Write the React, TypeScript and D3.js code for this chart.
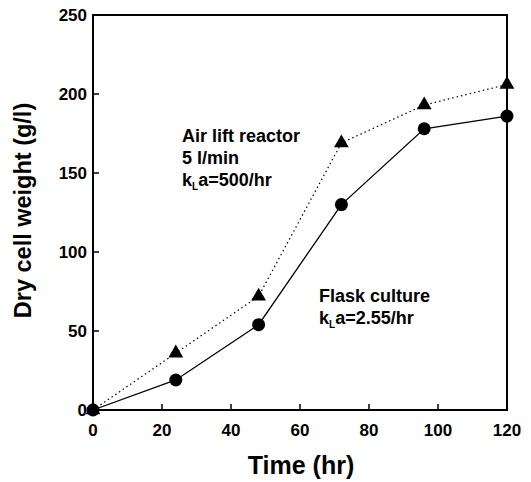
import * as d3 from "d3";

const times = [0, 24, 48, 72, 96, 120];
const flask = [0, 19, 54, 130, 178, 186];
const airlift = [0, 36, 72, 169, 193, 206];
const xTicks = [0, 20, 40, 60, 80, 100, 120];
const yTicks = [0, 50, 100, 150, 200, 250];

const width = 531;
const height = 482;
const margin = { top: 15, right: 24, bottom: 72, left: 93 };
const font = "'Liberation Sans', Arial, sans-serif";

export default function App() {
  const x = d3.scaleLinear().domain([0, 120]).range([margin.left, width - margin.right]);
  const y = d3.scaleLinear().domain([0, 250]).range([height - margin.bottom, margin.top]);

  const line = d3
    .line<number>()
    .x((_, i) => x(times[i]))
    .y((d) => y(d));

  const tri = d3.symbol().type(d3.symbolTriangle).size(95)();

  const bottom = y(0);

  return (
    <svg width={width} height={height} style={{ position: "absolute", left: 0, top: 0 }} fontFamily={font}>
      <rect width={width} height={height} fill="#fff" />
      {/* frame */}
      <rect
        x={margin.left}
        y={margin.top}
        width={x(120) - margin.left}
        height={bottom - margin.top}
        fill="none"
        stroke="#000"
        strokeWidth={2}
      />
      {xTicks.map((t) => (
        <g key={"x" + t}>
          <line x1={x(t)} x2={x(t)} y1={bottom} y2={bottom - 6} stroke="#000" strokeWidth={1.5} />
          <text x={x(t)} y={bottom + 26} textAnchor="middle" fontSize={17} fontWeight="bold">
            {t}
          </text>
        </g>
      ))}
      {yTicks.map((t) => (
        <g key={"y" + t}>
          <line x1={margin.left} x2={margin.left + 6} y1={y(t)} y2={y(t)} stroke="#000" strokeWidth={1.5} />
          <text x={margin.left - 6} y={y(t) + 6} textAnchor="end" fontSize={17} fontWeight="bold">
            {t}
          </text>
        </g>
      ))}

      <path d={line(airlift) ?? ""} fill="none" stroke="#000" strokeWidth={1.2} strokeDasharray="1.5,3" />
      <path d={line(flask) ?? ""} fill="none" stroke="#000" strokeWidth={1.3} />

      {airlift.map((v, i) => (
        <path key={"t" + i} d={tri ?? ""} transform={`translate(${x(times[i])},${y(v)})`} fill="#000" />
      ))}
      {flask.map((v, i) => (
        <circle key={"c" + i} cx={x(times[i])} cy={y(v)} r={6.5} fill="#000" />
      ))}

      <g fontSize={18} fontWeight="bold">
        <text x={182} y={142}>Air lift reactor</text>
        <text x={182} y={164}>5 l/min</text>
        <text x={182} y={186}>
          k<tspan fontSize={10} dy={4}>L</tspan>
          <tspan dy={-4}>a=500/hr</tspan>
        </text>
        <text x={319} y={302}>Flask culture</text>
        <text x={319} y={324}>
          k<tspan fontSize={10} dy={4}>L</tspan>
          <tspan dy={-4}>a=2.55/hr</tspan>
        </text>
      </g>

      <text x={301} y={474} textAnchor="middle" fontSize={25} fontWeight="bold">
        Time (hr)
      </text>
      <text
        transform={`translate(31,${(margin.top + bottom) / 2 - 2}) rotate(-90)`}
        textAnchor="middle"
        fontSize={23.5}
        fontWeight="bold"
      >
        Dry cell weight (g/l)
      </text>
    </svg>
  );
}
